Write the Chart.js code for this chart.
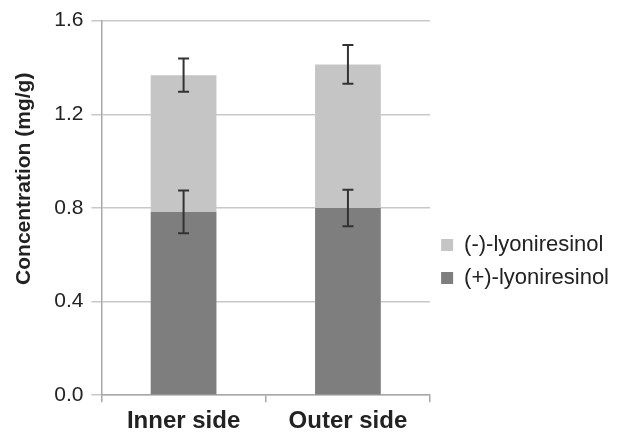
<!DOCTYPE html>
<html>
<head>
<meta charset="utf-8">
<script src="https://cdn.jsdelivr.net/npm/chart.js@4.4.1/dist/chart.umd.min.js"></script>
<style>
    html, body { margin: 0; padding: 0; background: #fff; }
    #wrap { width: 626px; height: 441px; }
</style>
</head>
<body>
<div id="wrap"><canvas id="grafico" width="626" height="441"></canvas></div>
<script>
// dados
const categorias = ['Inner side', 'Outer side'];
const lyoniPlus = [0.783, 0.800];        // (+)-lyoniresinol, parte de baixo
const lyoniMinus = [0.584, 0.613];       // (-)-lyoniresinol, empilhado em cima
const erroPlus = [0.091, 0.078];
const erroMinus = [0.071, 0.083];
const ticksY = [0, 0.4, 0.8, 1.2, 1.6];

const COR_ESCURA = '#7e7e7e';
const COR_CLARA = '#c5c5c5';
const COR_TEXTO = '#222222';

// barras de erro desenhadas no topo de cada segmento
const barrasErro = {
    id: 'barrasErro',
    afterDatasetsDraw(chart) {
        const ctx = chart.ctx;
        const y = chart.scales.y;
        const erros = [erroPlus, erroMinus];
        ctx.save();
        ctx.strokeStyle = '#333333';
        ctx.lineWidth = 2;
        chart.data.datasets.forEach((ds, di) => {
            const meta = chart.getDatasetMeta(di);
            meta.data.forEach((bar, i) => {
                let topo = 0;
                for (let k = 0; k <= di; k++) topo += chart.data.datasets[k].data[i];
                const e = erros[di][i];
                const yAlto = y.getPixelForValue(topo + e);
                const yBaixo = y.getPixelForValue(topo - e);
                const x = bar.x;
                ctx.beginPath();
                ctx.moveTo(x, yAlto); ctx.lineTo(x, yBaixo);
                ctx.moveTo(x - 5.5, yAlto); ctx.lineTo(x + 5.5, yAlto);
                ctx.moveTo(x - 5.5, yBaixo); ctx.lineTo(x + 5.5, yBaixo);
                ctx.stroke();
            });
        });
        ctx.restore();
    }
};

function desenharGrafico() {
    const ctx = document.getElementById('grafico').getContext('2d');
    new Chart(ctx, {
        type: 'bar',
        data: {
            labels: categorias,
            datasets: [
                { label: '(+)-lyoniresinol', data: lyoniPlus, backgroundColor: COR_ESCURA, barPercentage: 0.8, categoryPercentage: 0.5 },
                { label: '(-)-lyoniresinol', data: lyoniMinus, backgroundColor: COR_CLARA, barPercentage: 0.8, categoryPercentage: 0.5 },
            ],
        },
        options: {
            responsive: false,
            animation: false,
            layout: { padding: { top: 10, left: 12, right: 7, bottom: 0 } },
            plugins: {
                tooltip: { enabled: false },
                legend: {
                    position: 'right',
                    reverse: true,
                    maxWidth: 220,
                    title: { display: true, text: ' ', font: { size: 10 }, padding: { top: 0, bottom: 60 } },
                    labels: {
                        boxWidth: 12,
                        boxHeight: 12,
                        padding: 11,
                        color: COR_TEXTO,
                        font: { family: 'Liberation Sans, Arial', size: 22 },
                    },
                },
            },
            scales: {
                x: {
                    stacked: true,
                    grid: { drawOnChartArea: false, color: '#a8a8a8', tickLength: 7, lineWidth: 1.5 },
                    border: { color: '#a8a8a8', width: 1.5 },
                    ticks: {
                        color: COR_TEXTO,
                        padding: 5,
                        font: { family: 'Liberation Sans, Arial', size: 24, weight: 'bold' },
                    },
                },
                y: {
                    stacked: true,
                    min: ticksY[0],
                    max: ticksY[ticksY.length - 1],
                    afterBuildTicks: (axis) => { axis.ticks = ticksY.map((v) => ({ value: v })); },
                    grid: { color: '#c8c8c8', lineWidth: 1.5, tickLength: 10 },
                    border: { color: '#a8a8a8', width: 1.5 },
                    ticks: {
                        color: COR_TEXTO,
                        padding: 8,
                        font: { family: 'Liberation Sans, Arial', size: 21 },
                        callback: (v) => Number(v).toFixed(1),
                    },
                    title: {
                        display: true,
                        // espaços no início sobem o texto, como no original
                        text: '          Concentration (mg/g)',
                        color: COR_TEXTO,
                        padding: { top: 0, bottom: 9 },
                        font: { family: 'Liberation Sans, Arial', size: 21, weight: 'bold' },
                    },
                },
            },
        },
        plugins: [barrasErro],
    });
}

document.addEventListener('DOMContentLoaded', () => {
    desenharGrafico();
});
</script>
</body>
</html>
